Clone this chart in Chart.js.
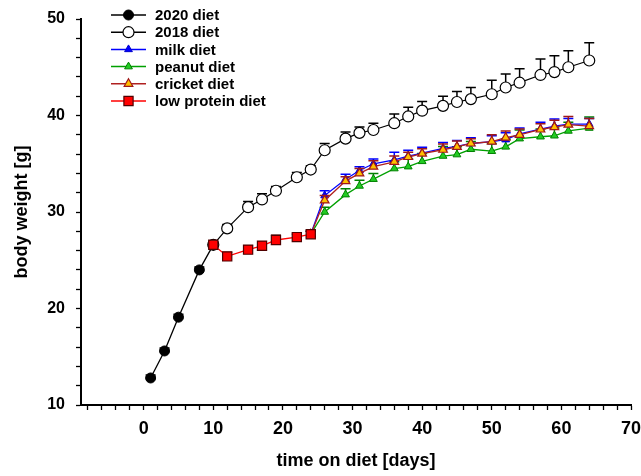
<!DOCTYPE html>
<html>
<head>
<meta charset="utf-8">
<script src="https://cdn.jsdelivr.net/npm/chart.js@4.4.1/dist/chart.umd.min.js"></script>
<style>
  html, body { margin: 0; padding: 0; background: #fff; }
  #wrap { width: 641px; height: 476px; }
</style>
</head>
<body>
<div id="wrap"><canvas id="myChart" width="641" height="476"></canvas></div>
<script>
// days on diet
const days2020 = [1, 3, 5, 8, 10];
const daysLow = [10, 12, 15, 17, 19, 22, 24];
const days2018 = [10, 12, 15, 17, 19, 22, 24, 26, 29, 31, 33, 36, 38, 40, 43, 45, 47, 50, 52, 54, 57, 59, 61, 64];
const daysLate = [24, 26, 29, 31, 33, 36, 38, 40, 43, 45, 47, 50, 52, 54, 57, 59, 61, 64];

// body weight [g] means and error (SEM, drawn upward)
const w2020 = [12.8, 15.6, 19.1, 24.0, 26.6];
const e2020 = [0.3, 0.3, 0.3, 0.3, 0.3];
const w2018 = [26.6, 28.3, 30.5, 31.3, 32.2, 33.6, 34.4, 36.4, 37.6, 38.2, 38.5, 39.2, 39.9, 40.5, 41.0, 41.4, 41.7, 42.2, 42.9, 43.4, 44.2, 44.5, 45.0, 45.7];
const e2018 = [0.3, 0.4, 0.6, 0.6, 0.45, 0.5, 0.4, 0.7, 0.7, 0.6, 0.7, 0.95, 0.95, 0.95, 1.0, 1.1, 1.2, 1.45, 1.4, 1.45, 1.65, 1.7, 1.7, 1.85];
const wMilk = [27.7, 31.7, 33.4, 34.3, 35.0, 35.4, 35.8, 36.1, 36.6, 36.8, 37.1, 37.3, 37.5, 38.1, 38.6, 38.9, 39.1, 39.1];
const eMilk = [0.3, 0.5, 0.5, 0.4, 0.5, 0.8, 0.6, 0.6, 0.6, 0.6, 0.6, 0.6, 0.7, 0.6, 0.7, 0.75, 0.6, 0.6];
const wPeanut = [27.7, 30.0, 31.8, 32.7, 33.4, 34.5, 34.7, 35.25, 35.8, 35.95, 36.5, 36.3, 36.75, 37.6, 37.8, 37.9, 38.4, 38.7];
const ePeanut = [0.3, 0.5, 0.6, 0.6, 0.6, 0.7, 0.8, 0.8, 1.0, 0.8, 0.8, 0.8, 0.8, 0.9, 0.8, 0.8, 0.9, 1.15];
const wCricket = [27.7, 31.2, 33.2, 34.0, 34.7, 35.2, 35.7, 36.05, 36.45, 36.75, 37.1, 37.3, 37.7, 38.0, 38.55, 38.8, 39.05, 38.9];
const eCricket = [0.3, 0.5, 0.45, 0.5, 0.6, 0.6, 0.5, 0.5, 0.6, 0.6, 0.5, 0.7, 0.7, 0.6, 0.6, 0.7, 0.85, 0.8];
const wLow = [26.6, 25.4, 26.1, 26.5, 27.1, 27.4, 27.7];
const eLow = [0.3, 0.4, 0.4, 0.4, 0.5, 0.3, 0.3];

const xTicks = [-8, -6, -4, -2, 0, 2, 4, 6, 8, 10, 12, 14, 16, 18, 20, 22, 24, 26, 28, 30, 32, 34, 36, 38, 40, 42, 44, 46, 48, 50, 52, 54, 56, 58, 60, 62, 64, 66, 68, 70];
const yTicks = [10, 12, 14, 16, 18, 20, 22, 24, 26, 28, 30, 32, 34, 36, 38, 40, 42, 44, 46, 48, 50];

const pts = (xs, ys) => xs.map((x, i) => ({ x: x, y: ys[i] }));

function drawMarker(ctx, style, r, x, y, fill, stroke, bw) {
    ctx.save();
    ctx.beginPath();
    if (style === 'circle') {
        ctx.arc(x, y, r, 0, Math.PI * 2);
    } else if (style === 'triangle') {
        ctx.moveTo(x, y - r);
        ctx.lineTo(x + r * 0.866, y + r * 0.5);
        ctx.lineTo(x - r * 0.866, y + r * 0.5);
        ctx.closePath();
    } else {
        const s = r * Math.SQRT1_2;
        ctx.rect(x - s, y - s, 2 * s, 2 * s);
    }
    ctx.fillStyle = fill;
    ctx.fill();
    ctx.lineWidth = bw;
    ctx.strokeStyle = stroke;
    ctx.stroke();
    ctx.restore();
}

// upward error bars, drawn just under each series
const errorBars = {
    id: 'errorBars',
    beforeDatasetDraw(chart, args) {
        const ds = chart.data.datasets[args.index];
        if (!ds.err) return;
        const ctx = chart.ctx;
        const yScale = chart.scales.y;
        ctx.save();
        ctx.strokeStyle = ds.errColor;
        ctx.lineWidth = 1.5;
        args.meta.data.forEach((p, i) => {
            const top = yScale.getPixelForValue(ds.data[i].y + ds.err[i]);
            ctx.beginPath();
            ctx.moveTo(p.x, p.y);
            ctx.lineTo(p.x, top);
            ctx.moveTo(p.x - 5, top);
            ctx.lineTo(p.x + 5, top);
            ctx.stroke();
        });
        ctx.restore();
    }
};

// legend in the upper left corner, line + marker
const lineLegend = {
    id: 'lineLegend',
    afterDraw(chart) {
        const ctx = chart.ctx;
        ctx.save();
        ctx.font = 'bold 15px "Liberation Sans", Arial, sans-serif';
        ctx.textBaseline = 'middle';
        ctx.fillStyle = '#000';
        chart.data.datasets.forEach((ds, i) => {
            const y = 15 + i * 17.2;
            ctx.beginPath();
            ctx.strokeStyle = ds.borderColor;
            ctx.lineWidth = 1.5;
            ctx.moveTo(111, y);
            ctx.lineTo(146, y);
            ctx.stroke();
            drawMarker(ctx, ds.pointStyle, ds.pointRadius, 128.5, y, ds.pointBackgroundColor, ds.pointBorderColor, ds.pointBorderWidth);
            ctx.fillStyle = '#000';
            ctx.fillText(ds.label, 155, y + 1);
        });
        ctx.restore();
    }
};

const ctx = document.getElementById('myChart').getContext('2d');
const chart = new Chart(ctx, {
    type: 'scatter',
    data: {
        datasets: [
            {
                label: '2020 diet', data: pts(days2020, w2020), err: e2020, errColor: '#000',
                borderColor: '#000', borderWidth: 1.3, showLine: true,
                pointStyle: 'circle', pointRadius: 5, pointBackgroundColor: '#000', pointBorderColor: '#000', pointBorderWidth: 1,
                order: 5
            },
            {
                label: '2018 diet', data: pts(days2018, w2018), err: e2018, errColor: '#000',
                borderColor: '#000', borderWidth: 1.2, showLine: true,
                pointStyle: 'circle', pointRadius: 5.5, pointBackgroundColor: '#fff', pointBorderColor: '#000', pointBorderWidth: 1.2,
                order: 4
            },
            {
                label: 'milk diet', data: pts(daysLate, wMilk), err: eMilk, errColor: '#0000ff',
                borderColor: '#0000ff', borderWidth: 1.3, showLine: true,
                pointStyle: 'triangle', pointRadius: 4.5, pointBackgroundColor: '#0000ff', pointBorderColor: '#0000cc', pointBorderWidth: 1,
                order: 2
            },
            {
                label: 'peanut diet', data: pts(daysLate, wPeanut), err: ePeanut, errColor: '#008000',
                borderColor: '#00a000', borderWidth: 1.3, showLine: true,
                pointStyle: 'triangle', pointRadius: 4.5, pointBackgroundColor: '#22cc22', pointBorderColor: '#008000', pointBorderWidth: 1,
                order: 3
            },
            {
                label: 'cricket diet', data: pts(daysLate, wCricket), err: eCricket, errColor: '#a01818',
                borderColor: '#b02020', borderWidth: 1.3, showLine: true,
                pointStyle: 'triangle', pointRadius: 5, pointBackgroundColor: '#ffc000', pointBorderColor: '#a01818', pointBorderWidth: 1.2,
                order: 1
            },
            {
                label: 'low protein diet', data: pts(daysLow, wLow), err: eLow, errColor: '#400000',
                borderColor: '#ff0000', borderWidth: 1.3, showLine: true,
                pointStyle: 'rect', pointRadius: 6.5, pointBackgroundColor: '#ff0000', pointBorderColor: '#500000', pointBorderWidth: 1.2,
                order: 0
            }
        ]
    },
    options: {
        responsive: false,
        animation: false,
        layout: { padding: { left: 0, top: 19, right: 10, bottom: 0 } },
        plugins: {
            legend: { display: false },
            tooltip: { enabled: false }
        },
        scales: {
            x: {
                type: 'linear', min: -9, max: 70,
                afterBuildTicks: (s) => { s.ticks = xTicks.map(v => ({ value: v })); },
                afterFit: (s) => { s.height = 71; s.paddingLeft = 0; s.paddingRight = 0; },
                border: { display: true, color: '#000', width: 2 },
                grid: { drawOnChartArea: false, drawTicks: true, tickLength: 5, tickColor: '#000', tickWidth: 1.3 },
                ticks: {
                    color: '#000', padding: 8, maxRotation: 0, autoSkip: false,
                    font: { family: '"Liberation Sans", Arial, sans-serif', size: 18, weight: 'bold' },
                    callback: (v) => (v % 10 === 0 && v >= 0 ? v : '')
                },
                title: {
                    display: true, text: 'time on diet [days]', color: '#000',
                    font: { family: '"Liberation Sans", Arial, sans-serif', size: 18, weight: 'bold' },
                    padding: { top: 0, bottom: 4 }
                }
            },
            y: {
                type: 'linear', min: 10, max: 50,
                afterBuildTicks: (s) => { s.ticks = yTicks.map(v => ({ value: v })); },
                afterFit: (s) => { s.width = 81; s.paddingTop = 0; s.paddingBottom = 0; },
                border: { display: true, color: '#000', width: 2 },
                grid: { drawOnChartArea: false, drawTicks: true, tickLength: 5, tickColor: '#000', tickWidth: 1.3 },
                ticks: {
                    color: '#000', padding: 11, autoSkip: false,
                    font: { family: '"Liberation Sans", Arial, sans-serif', size: 16, weight: 'bold' },
                    callback: (v) => (v % 10 === 0 ? v : '')
                },
                title: {
                    display: true, text: 'body weight [g]', color: '#000',
                    font: { family: '"Liberation Sans", Arial, sans-serif', size: 18, weight: 'bold' },
                    padding: { top: 11, bottom: 0 }
                }
            }
        }
    },
    plugins: [errorBars, lineLegend]
});
</script>
</body>
</html>
